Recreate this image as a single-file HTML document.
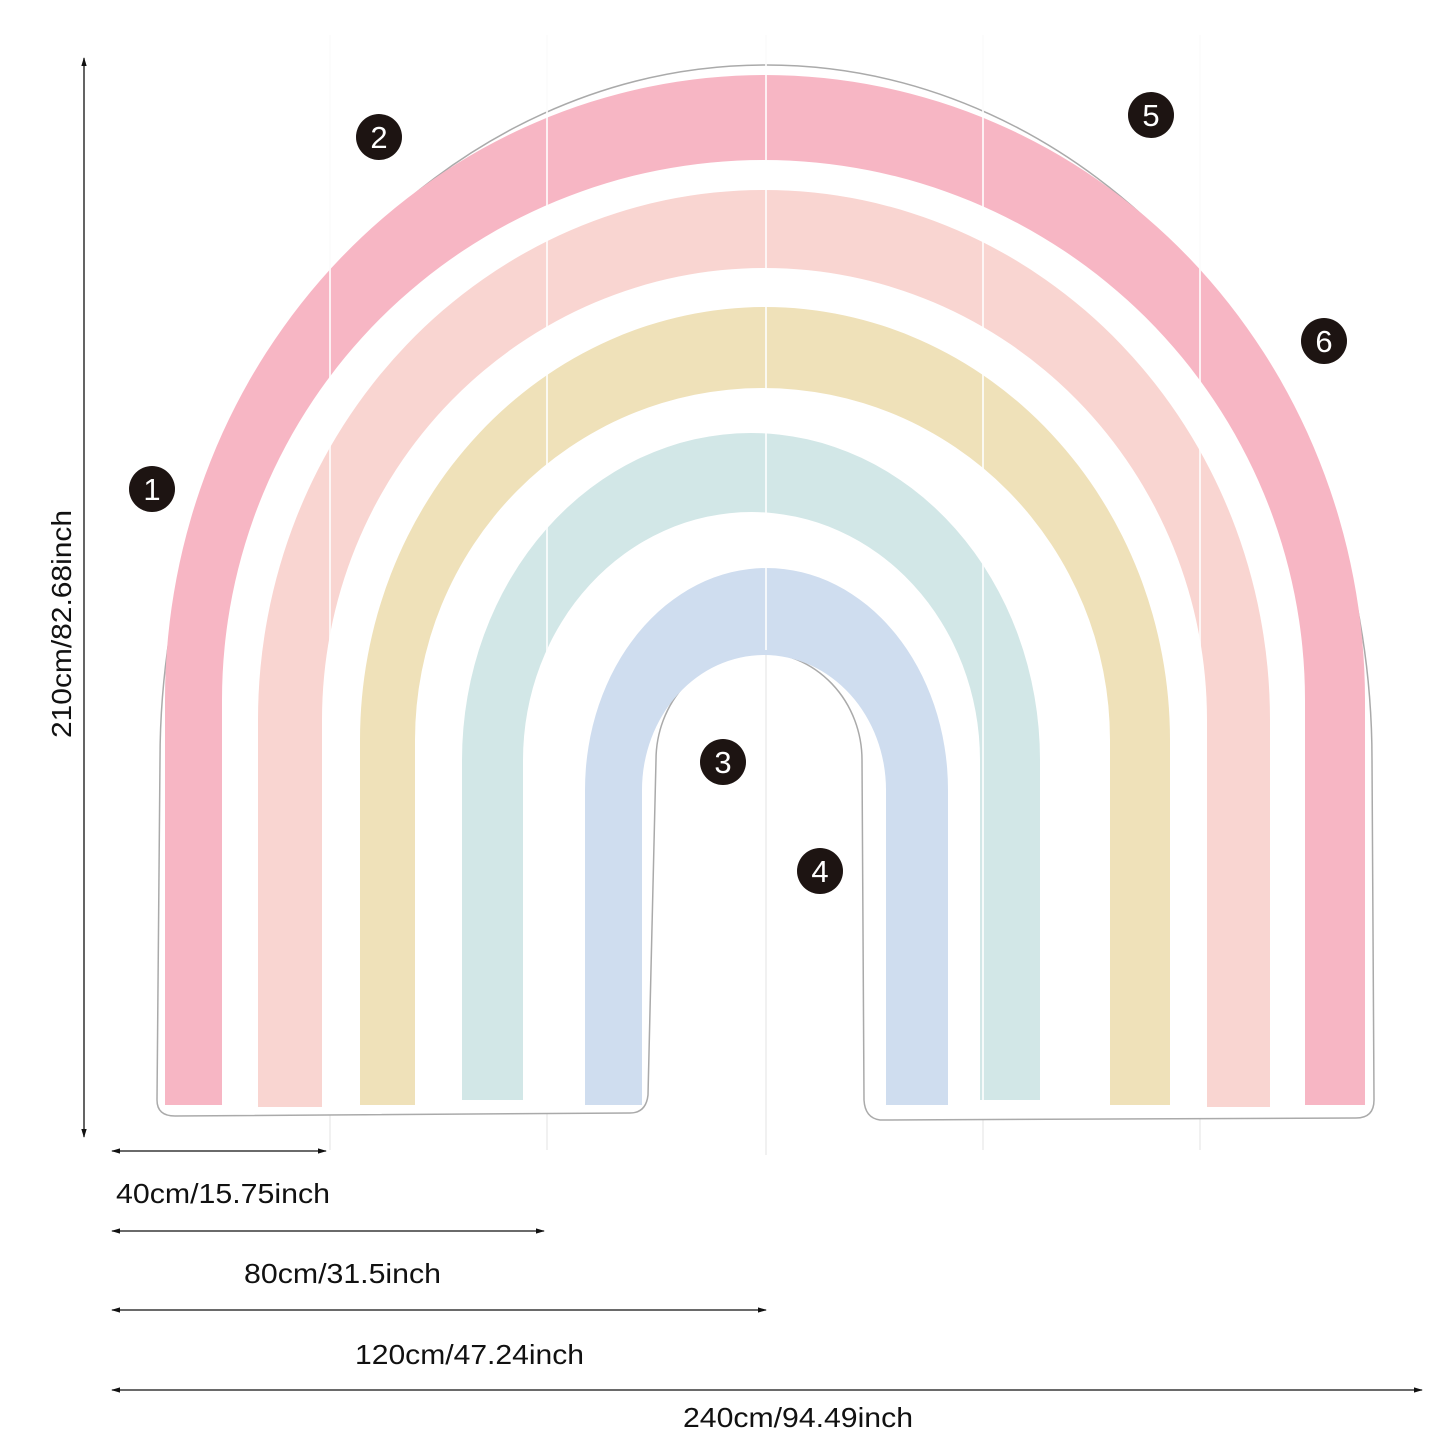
<!DOCTYPE html>
<html><head><meta charset="utf-8"><style>
html,body{margin:0;padding:0;background:#fff;}
svg{display:block}
text{font-family:"Liberation Sans","Noto Sans CJK SC",sans-serif;fill:#111;}
</style></head><body>
<svg width="1445" height="1445" viewBox="0 0 1445 1445" xmlns="http://www.w3.org/2000/svg">
<defs>
<marker id="a" viewBox="0 0 10 10" refX="9" refY="5" markerWidth="7" markerHeight="7" orient="auto-start-reverse"><path d="M0,2 L10,5 L0,8 z" fill="#111"/></marker>
</defs>
<g stroke="#f1f1f1" stroke-width="2">
<line x1="330" y1="35" x2="330" y2="1150"/><line x1="547" y1="35" x2="547" y2="1150"/>
<line x1="766" y1="35" x2="766" y2="1155"/><line x1="983" y1="35" x2="983" y2="1150"/>
<line x1="1200" y1="35" x2="1200" y2="1150"/>
</g>
<path d="M157,1100 L160,760 A606,695 0 0 1 1372,760 L1374,1100 Q1374,1118 1356,1118 L880,1120 Q865,1118 864,1100 L862,760 A103,108 0 0 0 656,760 L648,1095 Q646,1113 630,1113 L175,1116 Q157,1116 157,1100 Z" fill="#fff" stroke="#aaa" stroke-width="1.5"/>
<g>
<path d="M165,1105 L165,700 A600,625 0 0 1 1365,700 L1365,1105 L1305,1105 L1305,700 A541.5,540 0 0 0 222,700 L222,1105 Z" fill="#f7b6c4"/>
<path d="M258,1107 L258,720 A506,530 0 0 1 1270,720 L1270,1107 L1207,1107 L1207,720 A442.5,452 0 0 0 322,720 L322,1107 Z" fill="#f9d5d1"/>
<path d="M360,1105 L360,740 A405,433 0 0 1 1170,740 L1170,1105 L1110,1105 L1110,740 A347.5,352 0 0 0 415,740 L415,1105 Z" fill="#efe1b9"/>
<path d="M462,1100 L462,760 A289,327 0 0 1 1040,760 L1040,1100 L980,1100 L980,760 A228.5,248 0 0 0 523,760 L523,1100 Z" fill="#d2e7e7"/>
<path d="M585,1105 L585,790 A181.5,222 0 0 1 948,790 L948,1105 L886,1105 L886,790 A122,135 0 0 0 642,790 L642,1105 Z" fill="#cfddef"/>
</g>
<g stroke="#fff" stroke-width="2" opacity="0.8">
<line x1="330" y1="35" x2="330" y2="1110"/><line x1="547" y1="35" x2="547" y2="1110"/>
<line x1="766" y1="35" x2="766" y2="650"/><line x1="983" y1="35" x2="983" y2="1110"/>
<line x1="1200" y1="35" x2="1200" y2="1110"/>
</g>
<g font-size="31" text-anchor="middle">
<circle cx="152" cy="489" r="23" fill="#1d1412"/><text x="152" y="500" style="fill:#fff">1</text>
<circle cx="379" cy="137" r="23" fill="#1d1412"/><text x="379" y="148" style="fill:#fff">2</text>
<circle cx="723" cy="762" r="23" fill="#1d1412"/><text x="723" y="773" style="fill:#fff">3</text>
<circle cx="820" cy="871" r="23" fill="#1d1412"/><text x="820" y="882" style="fill:#fff">4</text>
<circle cx="1151" cy="115" r="23" fill="#1d1412"/><text x="1151" y="126" style="fill:#fff">5</text>
<circle cx="1324" cy="341" r="23" fill="#1d1412"/><text x="1324" y="352" style="fill:#fff">6</text>
</g>
<g stroke="#111" stroke-width="1.3">
<line x1="84" y1="58" x2="84" y2="1137" marker-start="url(#a)" marker-end="url(#a)"/>
<line x1="112" y1="1151" x2="326" y2="1151" marker-start="url(#a)" marker-end="url(#a)"/>
<line x1="112" y1="1231" x2="544" y2="1231" marker-start="url(#a)" marker-end="url(#a)"/>
<line x1="112" y1="1310" x2="766" y2="1310" marker-start="url(#a)" marker-end="url(#a)"/>
<line x1="112" y1="1390" x2="1422" y2="1390" marker-start="url(#a)" marker-end="url(#a)"/>
</g>
<g font-size="28">
<text x="116" y="1203" textLength="214" lengthAdjust="spacingAndGlyphs">40cm/15.75inch</text>
<text x="244" y="1283" textLength="197" lengthAdjust="spacingAndGlyphs">80cm/31.5inch</text>
<text x="355" y="1364" textLength="229" lengthAdjust="spacingAndGlyphs">120cm/47.24inch</text>
<text x="683" y="1427" textLength="230" lengthAdjust="spacingAndGlyphs">240cm/94.49inch</text>
<text transform="translate(71,624) rotate(-90)" text-anchor="middle" textLength="228" lengthAdjust="spacingAndGlyphs">210cm/82.68inch</text>
</g>
</svg>
</body></html>
